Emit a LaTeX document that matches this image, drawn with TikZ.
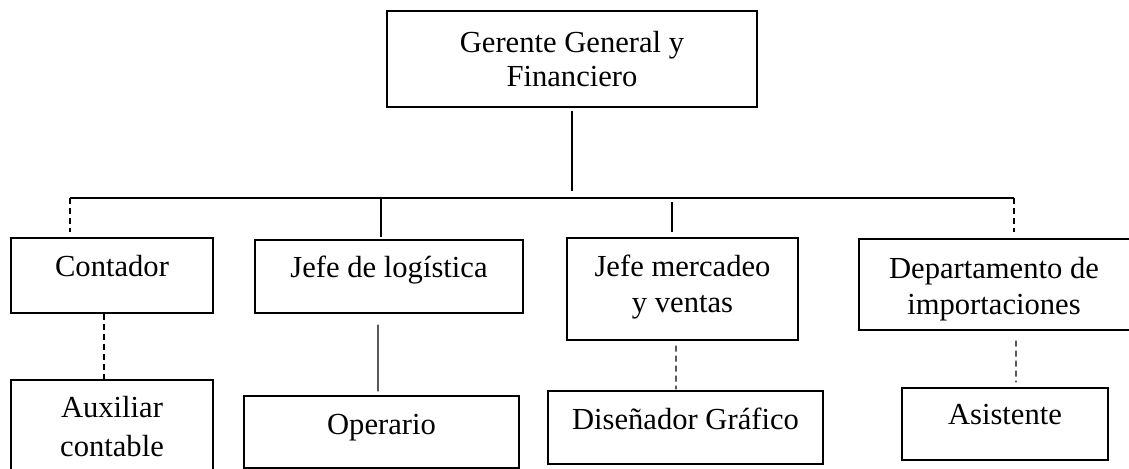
\documentclass[tikz,border=0pt]{standalone}
\usepackage{fontspec}
\setmainfont{Liberation Serif}
\begin{document}
\begin{tikzpicture}[x=1bp,y=-1bp,
  box/.style={draw, line width=1.3bp, inner sep=0pt, rectangle},
  txt/.style={inner sep=0pt, align=center, font=\fontsize{30.6bp}{36bp}\selectfont},
  link/.style={line width=1.3bp},
  dlink/.style={line width=1.3bp, dash pattern=on 6bp off 4bp}]
\useasboundingbox (0,0) rectangle (1129,469);
\fill[white] (0,0) rectangle (1129,469);
% boxes
\node[box, minimum width=370bp, minimum height=96bp] (top) at (572,59) {};
\node[box, minimum width=202bp, minimum height=75bp] (cont) at (112,275.5) {};
\node[box, minimum width=268bp, minimum height=73bp] (jlog) at (389,276.5) {};
\node[box, minimum width=231bp, minimum height=102bp] (jm) at (682.5,289) {};
\node[box, minimum width=272bp, minimum height=91bp] (dept) at (995,284.5) {};
\node[box, minimum width=202bp, minimum height=105bp] (aux) at (112,432.5) {};
\node[box, minimum width=275bp, minimum height=72bp] (oper) at (381.5,432) {};
\node[box, minimum width=275bp, minimum height=73bp] (dis) at (685.5,427.5) {};
\node[box, minimum width=206bp, minimum height=72bp] (asis) at (1005,424) {};
% texts
\node[txt, font=\fontsize{30.6bp}{34bp}\selectfont] (top-t) at (572,63.2) {\strut Gerente General y\\Financiero\strut};
\node[txt] (cont-t) at (112,269.8) {\strut Contador};
\node[txt] (jlog-t) at (389,270.8) {\strut Jefe de logística};
\node[txt] (jm-t) at (682.5,287.8) {\strut Jefe mercadeo\\y ventas\strut};
\node[txt] (dept-t) at (994,289.3) {\strut Departamento de\\importaciones\strut};
\node[txt, font=\fontsize{30.6bp}{38bp}\selectfont] (aux-t) at (112,429.4) {\strut Auxiliar\\contable\strut};
\node[txt] (oper-t) at (381.5,427.8) {\strut Operario};
\node[txt] (dis-t) at (685.5,422.8) {\strut Diseñador Gráfico};
\node[txt] (asis-t) at (1005,417.8) {\strut Asistente};
% bus coordinates
\coordinate (busc) at (572,198);
\coordinate (busl) at (70,198);
\coordinate (bus2) at (381,198);
\coordinate (bus3) at (672,198);
\coordinate (busr) at (1014,198);
% connectors
\draw[link, shorten <=3bp, shorten >=7bp] (top.south) -- (busc);
\draw[link] (busl) -- (busr);
\draw[dlink, shorten >=5bp] (busl) -- (busl |- cont.north);
\draw[link, shorten >=2bp] (bus2) -- (bus2 |- jlog.north);
\draw[link, shorten <=4bp, shorten >=5bp] (bus3) -- (bus3 |- jm.north);
\draw[dlink, shorten >=6bp] (busr) -- (busr |- dept.north);
\draw[dlink, shorten >=-2bp] ([xshift=-8bp]cont.south) -- ([xshift=-8bp]aux.north);
\draw[link, shorten <=11bp, shorten >=4bp] ([xshift=-11bp]jlog.south) -- ([xshift=-3.5bp]oper.north);
\draw[dlink, shorten <=5bp, shorten >=1bp] ([xshift=-6.5bp]jm.south) -- ([xshift=-9.5bp]dis.north);
\draw[dlink, shorten <=10bp, shorten >=5bp] ([xshift=21bp]dept.south) -- ([xshift=11bp]asis.north);
\end{tikzpicture}
\end{document}
